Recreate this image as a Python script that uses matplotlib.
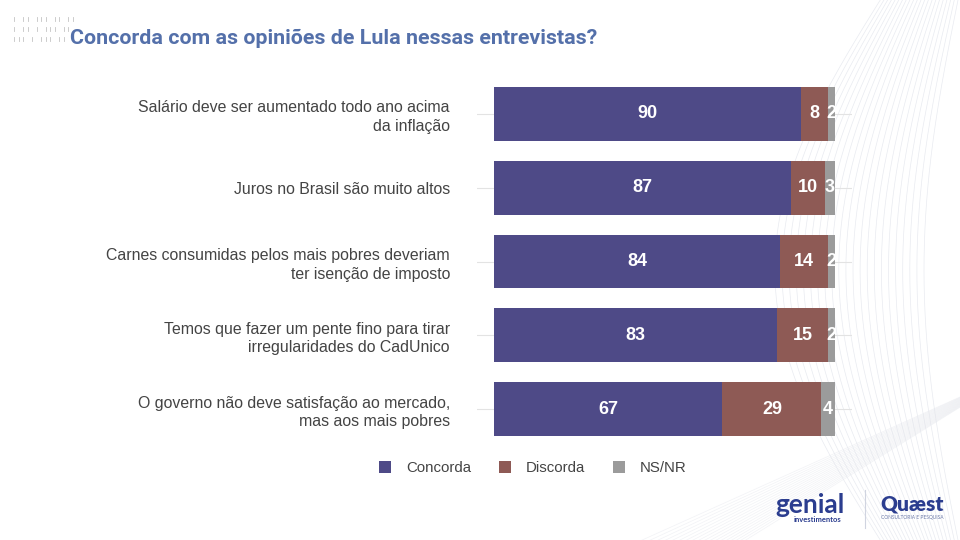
import matplotlib
matplotlib.use("Agg")
import matplotlib.pyplot as plt
import numpy as np

categories = [
    "Salário deve ser aumentado todo ano acima\nda inflação",
    "Juros no Brasil são muito altos",
    "Carnes consumidas pelos mais pobres deveriam\nter isenção de imposto",
    "Temos que fazer um pente fino para tirar\nirregularidades do CadUnico",
    "O governo não deve satisfação ao mercado,\nmas aos mais pobres",
]
concorda = [90, 87, 84, 83, 67]
discorda = [8, 10, 14, 15, 29]
nsnr = [2, 3, 2, 2, 4]
series_names = ["Concorda", "Discorda", "NS/NR"]
colors = ["#4e4a87", "#8e5a55", "#9b9b9b"]
title = "Concorda com as opiniões de Lula nessas entrevistas?"

fig = plt.figure(figsize=(9.6, 5.4), dpi=100)
fig.patch.set_facecolor("white")

# background decoration (wavy lines at right)
bg = fig.add_axes([0, 0, 1, 1], zorder=0)
bg.set_xlim(0, 960)
bg.set_ylim(540, 0)
bg.axis("off")
t = np.linspace(0, 1, 200)
for k in range(22):
    x0 = 960 - k * 3.5
    xs = x0 - 120 * np.sin(np.pi * t) * (0.3 + k * 0.03)
    ys = t * 560 - 10
    bg.plot(xs, ys, color="#dfe2ea", lw=0.5, alpha=0.7)
for k in range(18):
    xs = np.linspace(620, 960, 200)
    ys = 540 - (xs - 620) * (0.9 + k * 0.02) * 0.5 + 10
    bg.plot(xs, ys + k * 4, color="#e4e6ec", lw=0.5, alpha=0.5)

# barcode-like marks top-left
pattern = [[1, 0, 1, 1, 0, 1, 1, 1, 0, 1, 1, 0, 1, 1],
           [1, 0, 1, 1, 0, 1, 0, 1, 1, 1, 0, 1, 1],
           [1, 1, 1, 0, 1, 0, 1, 1, 1, 0, 1, 1]]
for r, row in enumerate(pattern):
    x = 14
    for v in row:
        if v:
            bg.plot([x, x], [17 + r * 10, 21 + r * 10], color="#c4c4c4", lw=0.6)
        x += 4.5

ax = fig.add_axes([477 / 960, 1 - 446 / 540, 375 / 960, 369 / 540], zorder=2)
ax.patch.set_alpha(0)
y = np.arange(len(categories))
h = 54 / 74
left = np.zeros(len(categories))
for vals, name, c in zip([concorda, discorda, nsnr], series_names, colors):
    ax.barh(y, vals, left=left, height=h, color=c, label=name, zorder=3)
    for yi, l, v in zip(y, left, vals):
        ax.text(l + v / 2, yi, f"{v}", ha="center", va="center", color="white",
                fontsize=13, fontweight="bold", family="Liberation Sans", zorder=4)
    left = left + np.array(vals)

ax.set_xlim(-5, 105)
ax.set_ylim(len(categories) - 0.5, -0.5)
ax.set_yticks(y)
ax.set_yticklabels(categories, fontsize=11.4, color="#444444", family="Liberation Sans",
                   linespacing=1.3)
ax.tick_params(axis="y", length=0, pad=19.5)
ax.set_xticks([])
ax.grid(axis="y", color="#e3e3e3", lw=0.8, zorder=0)
for s in ax.spines.values():
    s.set_visible(False)

leg = fig.legend(loc="center", bbox_to_anchor=(533 / 960, 1 - 468 / 540), ncol=3,
                 frameon=False, handlelength=0.8, handleheight=0.8, handletextpad=1.0,
                 columnspacing=1.85, prop={"family": "Liberation Sans", "size": 10.8})
for txt in leg.get_texts():
    txt.set_color("#444444")

fig.text(70 / 960, 1 - 38 / 540, title, fontsize=15.4, fontweight="bold", color="#5470aa",
         family="Roboto", va="center", ha="left")

# logos as text
fig.text(810 / 960, 1 - 505 / 540, "genial", fontsize=19, color="#2b3d8f", family="Lato",
         fontweight="bold", ha="center", va="center")
fig.text(818 / 960, 1 - 519 / 540, "investimentos", fontsize=5.5, color="#2b3d8f",
         family="Lato", fontweight="bold", ha="center", va="center")
fig.add_artist(plt.Line2D([865 / 960, 865 / 960], [1 - 528 / 540, 1 - 490 / 540],
                          color="#d0d4e0", lw=0.8))
fig.text(912 / 960, 1 - 504 / 540, "Quæst", fontsize=15, color="#2b3d8f", family="Lato",
         fontweight="heavy", ha="center", va="center")
fig.text(912 / 960, 1 - 518 / 540, "CONSULTORIA E PESQUISA", fontsize=3.5, color="#6a78a8",
         family="Lato", ha="center", va="center")

fig.savefig("out.png", dpi=100, facecolor="white")
